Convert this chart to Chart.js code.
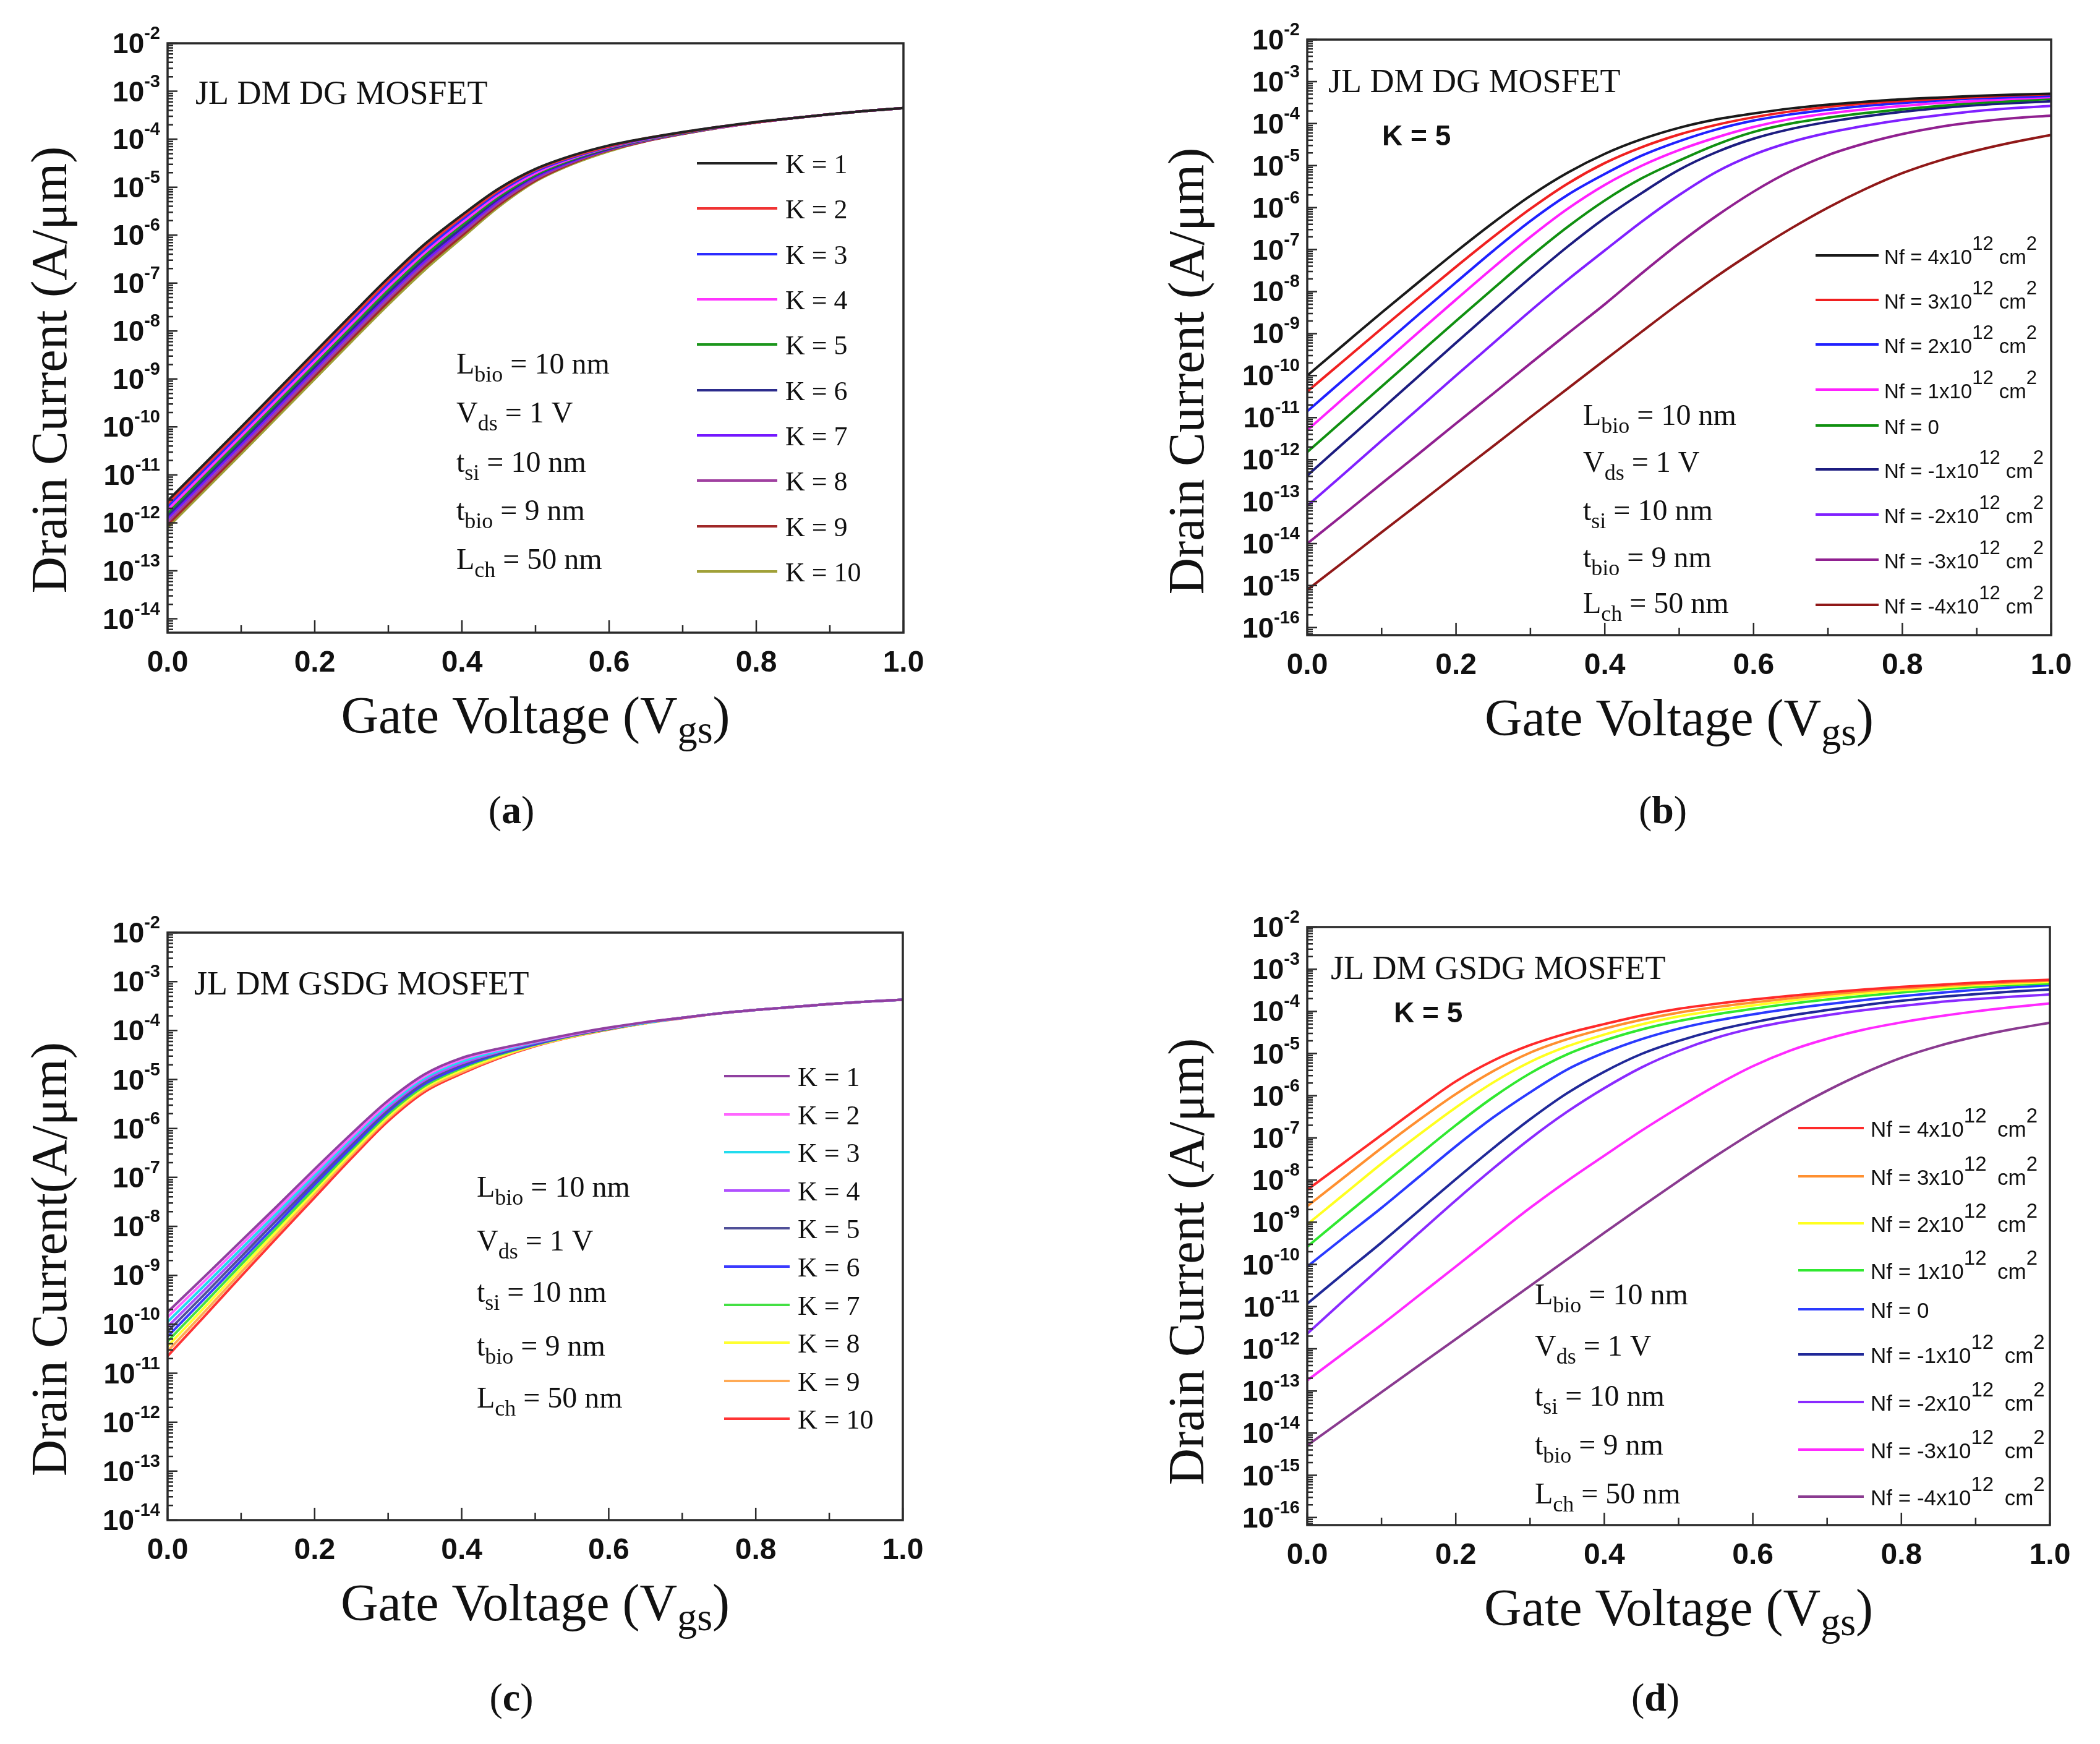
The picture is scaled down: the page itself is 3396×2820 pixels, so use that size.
<!DOCTYPE html>
<html>
<head>
<meta charset="utf-8">
<script src="https://cdn.jsdelivr.net/npm/chart.js@4.4.1/dist/chart.umd.min.js"></script>
<style>
html,body{margin:0;padding:0;background:#fff;}
#wrap{position:relative;width:3396px;height:2820px;background:#fff;overflow:hidden;}
canvas{position:absolute;}
</style>
</head>
<body>
<div id="wrap">
<canvas id="ca" width="1698" height="1410" style="left:0px;top:0px;width:1698px;height:1410px"></canvas>
<canvas id="cb" width="1698" height="1410" style="left:1698px;top:0px;width:1698px;height:1410px"></canvas>
<canvas id="cc" width="1698" height="1410" style="left:0px;top:1410px;width:1698px;height:1410px"></canvas>
<canvas id="cd" width="1698" height="1410" style="left:1698px;top:1410px;width:1698px;height:1410px"></canvas>
</div>
<script>
// ---------- DATA (drain current stored as log10 of A/um) ----------
const vgs = [0,0.05,0.1,0.15,0.2,0.25,0.3,0.35,0.4,0.45,0.5,0.55,0.6,0.65,0.7,0.75,0.8,0.85,0.9,0.95,1.0];

// (a) JL DM DG MOSFET, K = 1..10
const kLabels = ['K = 1','K = 2','K = 3','K = 4','K = 5','K = 6','K = 7','K = 8','K = 9','K = 10'];
const a_K1  = [-11.54,-10.77,-10.0,-9.22,-8.44,-7.66,-6.89,-6.18,-5.58,-5.03,-4.62,-4.34,-4.13,-3.98,-3.85,-3.74,-3.64,-3.56,-3.48,-3.41,-3.35];
const a_K2  = [-11.6,-10.83,-10.06,-9.28,-8.5,-7.72,-6.95,-6.24,-5.63,-5.07,-4.64,-4.36,-4.15,-3.98,-3.86,-3.74,-3.65,-3.56,-3.48,-3.41,-3.35];
const a_K3  = [-11.66,-10.89,-10.12,-9.34,-8.56,-7.78,-7.01,-6.3,-5.68,-5.11,-4.67,-4.38,-4.16,-3.99,-3.86,-3.74,-3.65,-3.56,-3.48,-3.41,-3.35];
const a_K4  = [-11.73,-10.96,-10.19,-9.41,-8.63,-7.85,-7.08,-6.36,-5.74,-5.16,-4.71,-4.4,-4.17,-4.0,-3.86,-3.75,-3.65,-3.56,-3.48,-3.41,-3.35];
const a_K5  = [-11.79,-11.02,-10.25,-9.47,-8.69,-7.91,-7.14,-6.42,-5.79,-5.2,-4.74,-4.42,-4.18,-4.01,-3.87,-3.75,-3.65,-3.56,-3.48,-3.41,-3.35];
const a_K6  = [-11.85,-11.08,-10.31,-9.53,-8.75,-7.97,-7.2,-6.48,-5.85,-5.24,-4.76,-4.44,-4.2,-4.01,-3.87,-3.75,-3.65,-3.56,-3.48,-3.41,-3.35];
const a_K7  = [-11.91,-11.14,-10.37,-9.59,-8.81,-8.03,-7.26,-6.54,-5.9,-5.28,-4.79,-4.46,-4.21,-4.02,-3.88,-3.75,-3.65,-3.56,-3.48,-3.41,-3.35];
const a_K8  = [-11.98,-11.21,-10.44,-9.66,-8.88,-8.1,-7.33,-6.6,-5.96,-5.33,-4.83,-4.48,-4.22,-4.03,-3.88,-3.76,-3.65,-3.56,-3.48,-3.41,-3.35];
const a_K9  = [-12.04,-11.27,-10.5,-9.72,-8.94,-8.16,-7.39,-6.66,-6.01,-5.37,-4.86,-4.5,-4.23,-4.04,-3.89,-3.76,-3.65,-3.56,-3.48,-3.41,-3.35];
const a_K10 = [-12.1,-11.33,-10.56,-9.78,-9.0,-8.22,-7.45,-6.72,-6.06,-5.41,-4.88,-4.52,-4.25,-4.04,-3.89,-3.76,-3.65,-3.56,-3.48,-3.41,-3.35];

// (b) JL DM DG MOSFET, K = 5, Nf = 4..-4 x10^12
const nfLabels = ['4','3','2','1','0','-1','-2','-3','-4'];
const b_Nf4  = [-10.0,-9.25,-8.5,-7.77,-7.05,-6.36,-5.72,-5.17,-4.72,-4.37,-4.1,-3.9,-3.76,-3.64,-3.55,-3.48,-3.42,-3.38,-3.34,-3.31,-3.29];
const b_Nf3  = [-10.38,-9.63,-8.88,-8.14,-7.41,-6.7,-6.03,-5.43,-4.94,-4.56,-4.26,-4.03,-3.85,-3.71,-3.6,-3.52,-3.46,-3.41,-3.37,-3.33,-3.3];
const b_Nf2  = [-10.85,-10.08,-9.31,-8.54,-7.78,-7.03,-6.32,-5.7,-5.2,-4.76,-4.42,-4.14,-3.93,-3.78,-3.67,-3.58,-3.51,-3.45,-3.4,-3.37,-3.34];
const b_Nf1  = [-11.3,-10.52,-9.74,-8.96,-8.19,-7.43,-6.7,-6.03,-5.46,-5.0,-4.63,-4.33,-4.08,-3.89,-3.76,-3.66,-3.58,-3.51,-3.46,-3.41,-3.37];
const b_Nf0  = [-11.82,-11.04,-10.26,-9.48,-8.7,-7.93,-7.17,-6.46,-5.83,-5.3,-4.88,-4.5,-4.2,-4.0,-3.86,-3.75,-3.66,-3.58,-3.51,-3.46,-3.41];
const b_Nfm1 = [-12.38,-11.59,-10.8,-10.01,-9.22,-8.44,-7.67,-6.93,-6.25,-5.65,-5.1,-4.68,-4.36,-4.13,-3.96,-3.83,-3.72,-3.63,-3.56,-3.51,-3.47];
const b_Nfm2 = [-13.1,-12.33,-11.55,-10.78,-10.0,-9.23,-8.46,-7.72,-7.02,-6.33,-5.7,-5.15,-4.74,-4.44,-4.22,-4.05,-3.91,-3.8,-3.7,-3.63,-3.58];
const b_Nfm3 = [-14.0,-13.29,-12.57,-11.86,-11.14,-10.43,-9.71,-9.0,-8.3,-7.56,-6.85,-6.2,-5.62,-5.13,-4.75,-4.47,-4.25,-4.08,-3.96,-3.87,-3.81];
const b_Nfm4 = [-15.1,-14.42,-13.73,-13.05,-12.36,-11.68,-10.99,-10.31,-9.63,-8.95,-8.28,-7.64,-7.05,-6.5,-6.0,-5.56,-5.18,-4.88,-4.64,-4.44,-4.27];

// (c) JL DM GSDG MOSFET, K = 1..10
const c_K1  = [-9.75,-9.03,-8.3,-7.57,-6.83,-6.11,-5.43,-4.89,-4.56,-4.37,-4.22,-4.07,-3.94,-3.83,-3.74,-3.65,-3.58,-3.52,-3.46,-3.41,-3.37];
const c_K2  = [-9.85,-9.12,-8.38,-7.64,-6.9,-6.17,-5.48,-4.93,-4.59,-4.39,-4.23,-4.08,-3.95,-3.83,-3.74,-3.65,-3.58,-3.52,-3.46,-3.41,-3.37];
const c_K3  = [-9.95,-9.21,-8.46,-7.71,-6.96,-6.22,-5.53,-4.97,-4.63,-4.42,-4.24,-4.08,-3.95,-3.84,-3.74,-3.65,-3.58,-3.52,-3.46,-3.41,-3.37];
const c_K4  = [-10.05,-9.3,-8.54,-7.78,-7.02,-6.28,-5.57,-5.01,-4.67,-4.44,-4.25,-4.09,-3.95,-3.84,-3.74,-3.65,-3.58,-3.52,-3.46,-3.41,-3.37];
const c_K5  = [-10.15,-9.39,-8.62,-7.85,-7.09,-6.33,-5.62,-5.05,-4.7,-4.46,-4.26,-4.1,-3.96,-3.84,-3.74,-3.65,-3.58,-3.52,-3.46,-3.41,-3.37];
const c_K6  = [-10.25,-9.48,-8.7,-7.93,-7.15,-6.39,-5.66,-5.09,-4.74,-4.48,-4.28,-4.1,-3.96,-3.84,-3.74,-3.65,-3.58,-3.52,-3.46,-3.41,-3.37];
const c_K7  = [-10.35,-9.57,-8.78,-8.0,-7.22,-6.44,-5.71,-5.13,-4.77,-4.5,-4.29,-4.11,-3.97,-3.84,-3.74,-3.65,-3.58,-3.52,-3.46,-3.41,-3.37];
const c_K8  = [-10.45,-9.66,-8.86,-8.07,-7.28,-6.5,-5.76,-5.17,-4.81,-4.53,-4.3,-4.12,-3.97,-3.85,-3.74,-3.65,-3.58,-3.52,-3.46,-3.41,-3.37];
const c_K9  = [-10.55,-9.75,-8.94,-8.14,-7.34,-6.55,-5.8,-5.21,-4.85,-4.55,-4.31,-4.13,-3.97,-3.85,-3.74,-3.65,-3.58,-3.52,-3.46,-3.41,-3.37];
const c_K10 = [-10.65,-9.84,-9.02,-8.21,-7.41,-6.61,-5.85,-5.25,-4.88,-4.57,-4.32,-4.13,-3.98,-3.85,-3.75,-3.65,-3.58,-3.52,-3.46,-3.41,-3.37];

// (d) JL DM GSDG MOSFET, K = 5, Nf = 4..-4 x10^12
const d_Nf4  = [-8.23,-7.58,-6.93,-6.28,-5.66,-5.17,-4.8,-4.52,-4.3,-4.1,-3.94,-3.82,-3.72,-3.63,-3.55,-3.48,-3.42,-3.37,-3.32,-3.28,-3.25];
const d_Nf3  = [-8.62,-7.93,-7.24,-6.58,-5.96,-5.42,-4.98,-4.66,-4.41,-4.2,-4.03,-3.9,-3.79,-3.69,-3.6,-3.52,-3.46,-3.4,-3.35,-3.31,-3.27];
const d_Nf2  = [-9.05,-8.33,-7.61,-6.93,-6.28,-5.69,-5.2,-4.83,-4.55,-4.31,-4.12,-3.98,-3.86,-3.75,-3.65,-3.57,-3.5,-3.44,-3.38,-3.34,-3.3];
const d_Nf1  = [-9.58,-8.85,-8.13,-7.41,-6.7,-6.04,-5.47,-5.02,-4.69,-4.43,-4.23,-4.07,-3.94,-3.82,-3.72,-3.63,-3.55,-3.48,-3.42,-3.37,-3.34];
const d_Nf0  = [-10.05,-9.35,-8.66,-7.93,-7.2,-6.52,-5.92,-5.38,-4.98,-4.66,-4.41,-4.22,-4.07,-3.94,-3.83,-3.73,-3.64,-3.56,-3.49,-3.43,-3.38];
const d_Nfm1 = [-10.93,-10.2,-9.48,-8.73,-7.98,-7.25,-6.56,-5.94,-5.43,-5.01,-4.7,-4.45,-4.26,-4.1,-3.97,-3.85,-3.75,-3.66,-3.59,-3.53,-3.48];
const d_Nfm2 = [-11.64,-10.84,-10.05,-9.26,-8.48,-7.73,-7.02,-6.38,-5.82,-5.33,-4.94,-4.63,-4.4,-4.23,-4.09,-3.97,-3.87,-3.78,-3.71,-3.65,-3.6];
const d_Nfm3 = [-12.75,-12.09,-11.43,-10.74,-10.05,-9.35,-8.66,-8.02,-7.42,-6.83,-6.28,-5.76,-5.3,-4.93,-4.65,-4.43,-4.26,-4.12,-4.0,-3.9,-3.81];
const d_Nfm4 = [-14.29,-13.66,-13.03,-12.4,-11.77,-11.14,-10.51,-9.88,-9.25,-8.63,-8.02,-7.43,-6.87,-6.35,-5.88,-5.46,-5.1,-4.82,-4.6,-4.42,-4.27];

// tick labels
const xTickLabels = ['0.0','0.2','0.4','0.6','0.8','1.0'];
const xMajorTicks = [0,0.2,0.4,0.6,0.8,1.0];
const xMinorTicks = [0.1,0.3,0.5,0.7,0.9];
const yExpAC = [-2,-3,-4,-5,-6,-7,-8,-9,-10,-11,-12,-13,-14];
const yExpBD = [-2,-3,-4,-5,-6,-7,-8,-9,-10,-11,-12,-13,-14,-15,-16];

// ---------- STYLE ----------
const SERIF = "'Liberation Serif','Times New Roman',serif";
const SANS = "'Liberation Sans',Arial,sans-serif";
const colA = ['#222222','#f03434','#2c2cff','#ff34ff','#1c961c','#2c2c8c','#7418ff','#a040a0','#a02828','#a0a038'];
const colB = ['#1a1a1a','#f02020','#2020ff','#ff20ff','#109010','#1c1c80','#8020ff','#902090','#901818'];
const colC = ['#9040a0','#ff66ff','#22dcee','#b050ff','#505098','#3a3aff','#44e044','#ffff30','#ffaa55','#ff3434'];
const colD = ['#ff2a2a','#ff9030','#ffff20','#30e830','#2a3aff','#202898','#8a2aff','#ff2aff','#8a3a90'];

function drawParts(ctx, x, y, parts, align){
  let w = 0;
  for (const p of parts){ ctx.font = p.f; w += ctx.measureText(p.t).width; }
  let cx = align==='center' ? x - w/2 : (align==='right' ? x - w : x);
  ctx.textAlign = 'left'; ctx.textBaseline = 'alphabetic';
  for (const p of parts){ ctx.font = p.f; ctx.fillText(p.t, cx, y + (p.dy||0)); cx += ctx.measureText(p.t).width; }
  return w;
}

function paramLines(){
  const m = '48px '+SERIF, s = '36px '+SERIF;
  return [
    [{t:'L',f:m},{t:'bio',f:s,dy:13},{t:' = 10 nm',f:m}],
    [{t:'V',f:m},{t:'ds',f:s,dy:13},{t:' = 1 V',f:m}],
    [{t:'t',f:m},{t:'si',f:s,dy:13},{t:' = 10 nm',f:m}],
    [{t:'t',f:m},{t:'bio',f:s,dy:13},{t:' = 9 nm',f:m}],
    [{t:'L',f:m},{t:'ch',f:s,dy:13},{t:' = 50 nm',f:m}]
  ];
}

function makePanel(cfg){
  const datasets = cfg.series.map((arr,i)=>({
    label: cfg.labels[i],
    data: vgs.map((v,j)=>({x:v, y:Math.pow(10, arr[j])})),
    borderColor: cfg.colors[i],
    backgroundColor: cfg.colors[i],
    borderWidth: 4,
    pointRadius: 0,
    fill: false,
    cubicInterpolationMode: 'monotone'
  }));
  const decor = {
    id: 'decor'+cfg.id,
    afterDatasetsDraw(chart){
      const ctx = chart.ctx, ca = chart.chartArea, xs = chart.scales.x, ys = chart.scales.y;
      ctx.save();
      ctx.strokeStyle = '#2a2a2a'; ctx.lineWidth = 3.5;
      ctx.strokeRect(ca.left, ca.top, ca.right-ca.left, ca.bottom-ca.top);
      ctx.lineWidth = 2.5;
      ctx.beginPath();
      for (let e = Math.floor(cfg.yMinExp)-1; e <= cfg.yMaxExp; e++){
        for (let m = 1; m <= 9; m++){
          const v = m*Math.pow(10,e);
          if (v < Math.pow(10,cfg.yMinExp)*0.999 || v > Math.pow(10,cfg.yMaxExp)*1.001) continue;
          const py = ys.getPixelForValue(v);
          const len = (m===1) ? 16 : 9;
          ctx.moveTo(ca.left, py); ctx.lineTo(ca.left+len, py);
        }
      }
      for (const t of xMajorTicks){ const px = xs.getPixelForValue(t); ctx.moveTo(px, ca.bottom); ctx.lineTo(px, ca.bottom-20); }
      for (const t of xMinorTicks){ const px = xs.getPixelForValue(t); ctx.moveTo(px, ca.bottom); ctx.lineTo(px, ca.bottom-12); }
      ctx.stroke();
      ctx.fillStyle = '#111';
      for (const e of cfg.yExps){
        const py = ys.getPixelForValue(Math.pow(10,e));
        drawParts(ctx, ca.left-12, py+16, [{t:'10', f:'bold 46px '+SANS},{t:String(e), f:'bold 29px '+SANS, dy:-23}], 'right');
      }
      ctx.font = 'bold 48px '+SANS; ctx.textAlign='center'; ctx.textBaseline='alphabetic';
      xMajorTicks.forEach((t,i)=>{ ctx.fillText(xTickLabels[i], xs.getPixelForValue(t), ca.bottom+63); });
      ctx.save();
      ctx.translate(cfg.yTitle.x, cfg.yTitle.y); ctx.rotate(-Math.PI/2);
      ctx.font = '82px '+SERIF; ctx.textAlign='center'; ctx.textBaseline='middle';
      ctx.fillText(cfg.yTitle.text, 0, 0);
      ctx.restore();
      drawParts(ctx, (ca.left+ca.right)/2, ca.bottom+162,
        [{t:'Gate Voltage (V',f:'84px '+SERIF},{t:'gs',f:'64px '+SERIF,dy:16},{t:')',f:'84px '+SERIF}], 'center');
      drawParts(ctx, cfg.tag.x, cfg.tag.y, [{t:'(',f:'64px '+SERIF},{t:cfg.id,f:'bold 64px '+SERIF},{t:')',f:'64px '+SERIF}], 'center');
      ctx.font = '54px '+SERIF; ctx.textAlign='left'; ctx.textBaseline='alphabetic';
      ctx.fillText(cfg.name.text, cfg.name.x, cfg.name.y);
      if (cfg.kText){ ctx.font = 'bold 46px '+SANS; ctx.fillText('K = 5', cfg.kText.x, cfg.kText.y); }
      paramLines().forEach((parts,i)=>{ drawParts(ctx, cfg.params.x, cfg.params.ys[i], parts, 'left'); });
      const lg = cfg.legend;
      cfg.labels.forEach((lab,i)=>{
        const y = lg.ys[i];
        ctx.strokeStyle = cfg.colors[i]; ctx.lineWidth = 4;
        ctx.beginPath(); ctx.moveTo(lg.x0, y); ctx.lineTo(lg.x1, y); ctx.stroke();
        ctx.fillStyle = '#111';
        if (lg.kind === 'K'){
          ctx.font = '44px '+SERIF; ctx.textAlign='left'; ctx.textBaseline='alphabetic';
          ctx.fillText(lab, lg.tx, y+16);
        } else {
          const mf = lg.mainSize+'px '+SANS, sf = lg.supSize+'px '+SANS;
          if (lab === '0') drawParts(ctx, lg.tx, y+14, [{t:'Nf = 0',f:mf}], 'left');
          else drawParts(ctx, lg.tx, y+14, [{t:'Nf = '+lab+'x10',f:mf},{t:'12',f:sf,dy:-23},{t:lg.gap+'cm',f:mf},{t:'2',f:sf,dy:-23}], 'left');
        }
      });
      ctx.restore();
    }
  };
  return new Chart(document.getElementById(cfg.canvas), {
    type: 'line',
    data: { datasets },
    options: {
      responsive: false, animation: false, devicePixelRatio: 1,
      layout: { padding: cfg.pad },
      plugins: { legend: {display:false}, tooltip: {enabled:false}, title:{display:false} },
      scales: {
        x: { type:'linear', min:0, max:1, display:false },
        y: { type:'logarithmic', min:Math.pow(10,cfg.yMinExp), max:Math.pow(10,cfg.yMaxExp), display:false }
      }
    },
    plugins: [decor]
  });
}

const rowsA = [264,337,411,484,557,631,704,777,851,924];
const rowsC = [330,392,453,515,576,638,700,761,823,884];

makePanel({
  id:'a', canvas:'ca', pad:{left:271, top:70, right:237, bottom:387},
  series:[a_K1,a_K2,a_K3,a_K4,a_K5,a_K6,a_K7,a_K8,a_K9,a_K10], labels:kLabels, colors:colA,
  yMinExp:-14.29, yMaxExp:-2, yExps:yExpAC,
  yTitle:{x:85, y:598, text:'Drain Current (A/\u03bcm)'},
  tag:{x:827, y:1331},
  name:{text:'JL DM DG MOSFET', x:316, y:168},
  params:{x:738, ys:[604,683,763,841,920]},
  legend:{kind:'K', x0:1127, x1:1257, tx:1270, ys:rowsA}
});
makePanel({
  id:'b', canvas:'cb', pad:{left:416, top:64, right:79, bottom:383},
  series:[b_Nf4,b_Nf3,b_Nf2,b_Nf1,b_Nf0,b_Nfm1,b_Nfm2,b_Nfm3,b_Nfm4], labels:nfLabels, colors:colB,
  yMinExp:-16.18, yMaxExp:-2, yExps:yExpBD,
  yTitle:{x:226, y:600, text:'Drain Current (A/\u03bcm)'},
  tag:{x:991, y:1331},
  name:{text:'JL DM DG MOSFET', x:450, y:149},
  kText:{x:537, y:235},
  params:{x:862, ys:[687,763,841,917,991]},
  legend:{kind:'Nf', x0:1238, x1:1340, tx:1349, mainSize:33, supSize:31, gap:' ', ys:[413,485,557,630,688,759,832,905,978]}
});
makePanel({
  id:'c', canvas:'cc', pad:{left:271, top:98, right:238, bottom:362},
  series:[c_K1,c_K2,c_K3,c_K4,c_K5,c_K6,c_K7,c_K8,c_K9,c_K10], labels:kLabels, colors:colC,
  yMinExp:-14, yMaxExp:-2, yExps:yExpAC,
  yTitle:{x:85, y:626, text:'Drain Current(A/\u03bcm)'},
  tag:{x:827, y:1356},
  name:{text:'JL DM GSDG MOSFET', x:314, y:198},
  params:{x:771, ys:[525,612,695,782,866]},
  legend:{kind:'K', x0:1171, x1:1277, tx:1290, ys:rowsC}
});
makePanel({
  id:'d', canvas:'cd', pad:{left:416, top:89, right:81, bottom:354},
  series:[d_Nf4,d_Nf3,d_Nf2,d_Nf1,d_Nf0,d_Nfm1,d_Nfm2,d_Nfm3,d_Nfm4], labels:nfLabels, colors:colD,
  yMinExp:-16.18, yMaxExp:-2, yExps:yExpBD,
  yTitle:{x:226, y:630, text:'Drain Current (A/\u03bcm)'},
  tag:{x:979, y:1356},
  name:{text:'JL DM GSDG MOSFET', x:454, y:173},
  kText:{x:556, y:243},
  params:{x:784, ys:[699,782,863,942,1021]},
  legend:{kind:'Nf', x0:1210, x1:1316, tx:1327, mainSize:35, supSize:33, gap:'\u2002', ys:[414,492,568,644,707,780,857,934,1010]}
});
</script>
</body>
</html>
